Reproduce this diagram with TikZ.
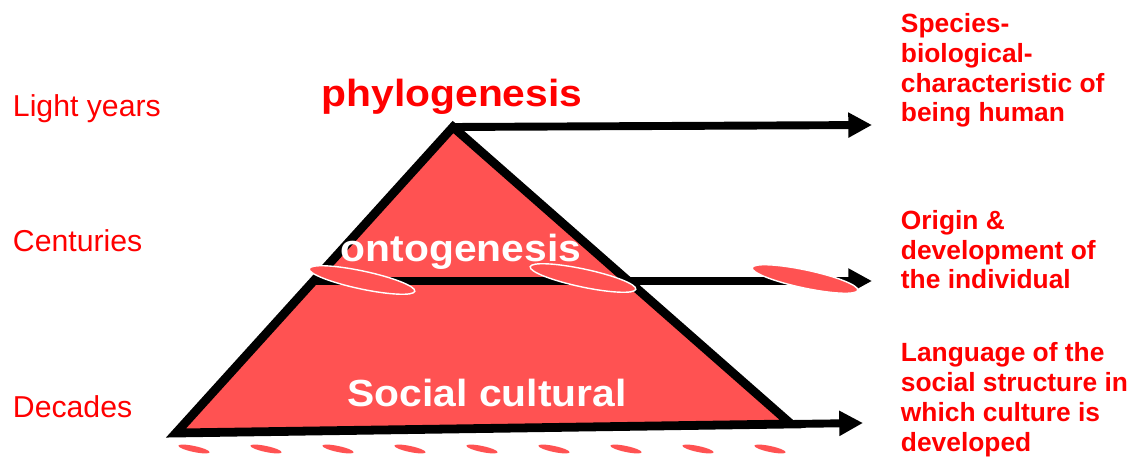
\documentclass[tikz,border=0pt]{standalone}
\usepackage{fontspec}
\setmainfont{Liberation Sans}
\newfontfamily\widebold[FakeStretch=1.08]{Liberation Sans Bold}
\usetikzlibrary{arrows.meta}
\definecolor{pyrfill}{RGB}{255,82,82}
\definecolor{labelred}{RGB}{255,0,0}

\begin{document}
\begin{tikzpicture}[
	x=0.02cm, y=-0.02cm,
	every path/.style={line width=4.5pt},
	arrow/.style={-{Triangle[length=13.5pt,width=13.5pt]}},
	level/.style={font=\fontsize{17.2}{20}\selectfont, text=labelred, anchor=base west, inner sep=0pt},
	note/.style={font=\fontsize{15}{17}\selectfont\bfseries, text=labelred, anchor=base west, align=left, inner sep=0pt},
	stage/.style={font=\widebold\fontsize{21.5}{24}\selectfont, anchor=base, inner sep=0pt},
	oval/.style={fill=pyrfill, draw=white, line width=0.8pt},
	dot/.style={fill=pyrfill, draw=none},
]
	\useasboundingbox (0,0) rectangle (1130,459);

	\coordinate (apex) at (453,127);
	\coordinate (right) at (791,424);
	\coordinate (left) at (176,433);
	\coordinate (midleft) at (314,281);

	\coordinate (topend) at (872,125);
	\coordinate (midend) at (872,281);
	\coordinate (lowend) at (863,423);

	\filldraw [fill=pyrfill, line width=5pt] (apex) -- (right) -- (left) -- cycle;

	\draw [arrow] (apex) -- (topend);
	\draw [arrow, line width=4pt] (midleft) -- (midend);
	\draw [arrow] (right) -- (lowend);

	\foreach \x/\y in {362/280, 583/278, 805/279}
		\draw [oval, rotate around={-12:(\x,\y)}] (\x,\y) ellipse [x radius=54, y radius=9];

	\foreach \x in {194,266,...,771}
		\fill [dot, rotate around={-12:(\x,449)}] (\x,449) ellipse [x radius=16, y radius=3];

	\node [stage, text=labelred] (phylo) at (452,107) {phylogenesis};
	\node [stage, text=white] (onto) at (461,262) {ontogenesis};
	\node [stage, text=white] (social) at (487,406) {Social cultural};

	\node [level] (light) at (9,117) {Light years};
	\node [level] (cent) at (9,252) {Centuries};
	\node [level] (dec) at (9,418) {Decades};

	\node [note] (species) at (897,122) {Species-\\biological-\\characteristic of\\being human};
	\node [note] (origin) at (897,289) {Origin \&\\development of\\the individual};
	\node [note] (language) at (897,451) {Language of the\\social structure in\\which culture is\\developed};
\end{tikzpicture}
\end{document}
